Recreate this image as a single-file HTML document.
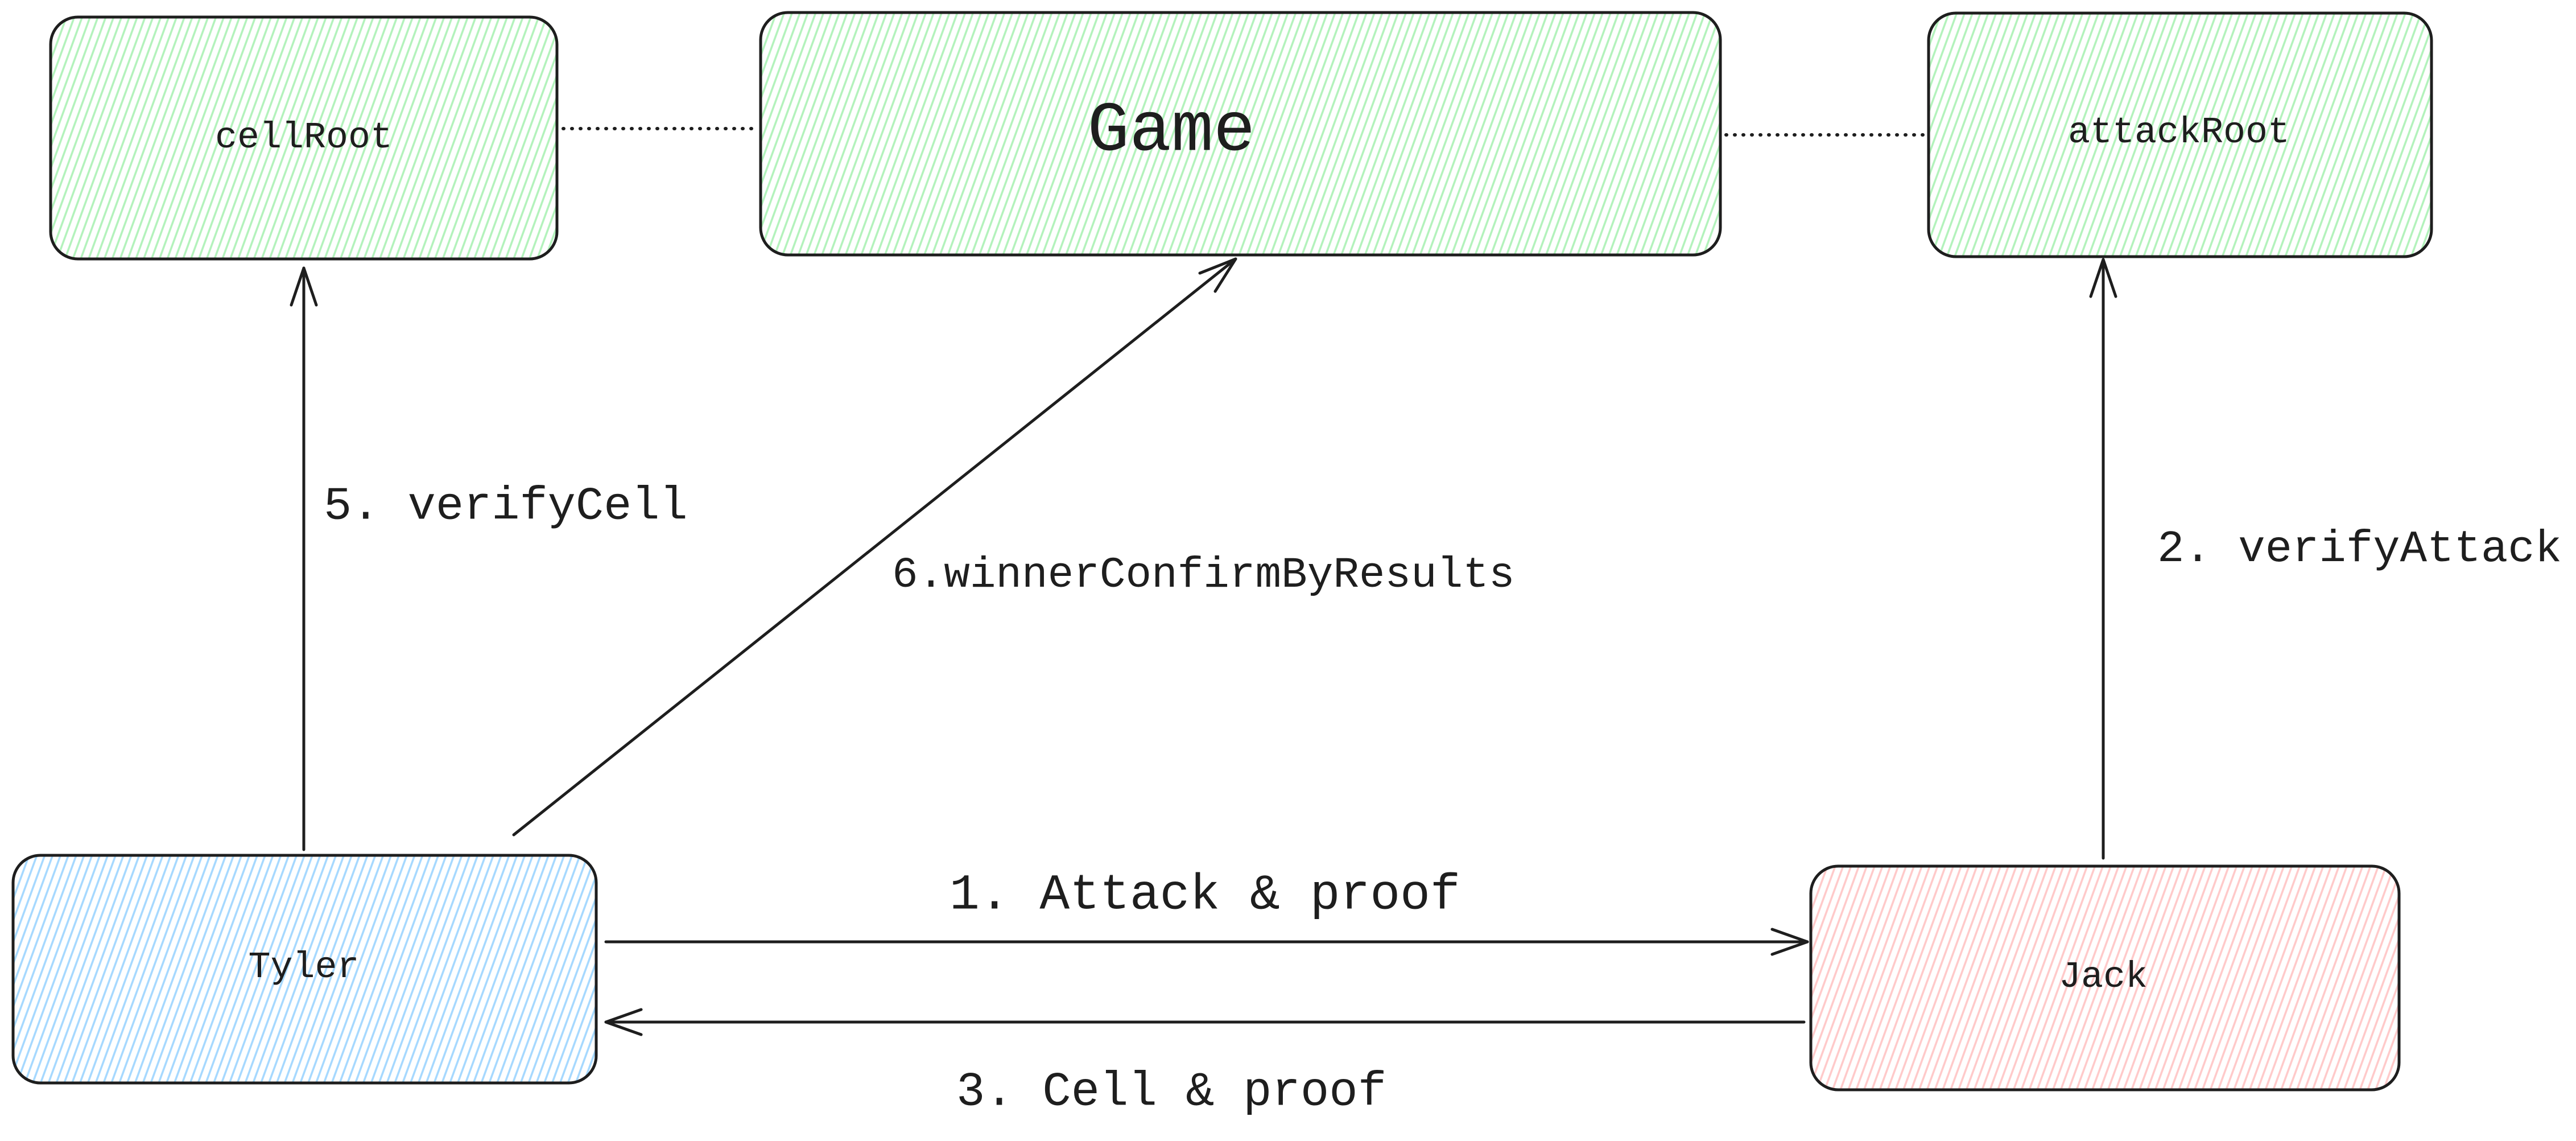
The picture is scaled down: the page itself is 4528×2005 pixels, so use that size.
<!DOCTYPE html>
<html><head><meta charset="utf-8"><style>
html,body{margin:0;padding:0;background:#fff;}
svg{display:block;}
text{font-family:"Liberation Mono","DejaVu Sans Mono",monospace;fill:#1e1e1e;}
</style></head><body>
<svg width="4528" height="2005" viewBox="0 0 4528 2005" xmlns="http://www.w3.org/2000/svg">
<defs>
<pattern id="hg" patternUnits="userSpaceOnUse" width="13" height="40" patternTransform="rotate(20)">
<line x1="3" y1="0" x2="3" y2="40" stroke="#b2f2bb" stroke-width="3.5"/>
</pattern>
<pattern id="hb" patternUnits="userSpaceOnUse" width="13" height="40" patternTransform="rotate(20)">
<line x1="3" y1="0" x2="3" y2="40" stroke="#a5d8ff" stroke-width="3.5"/>
</pattern>
<pattern id="hp" patternUnits="userSpaceOnUse" width="13" height="40" patternTransform="rotate(20)">
<line x1="3" y1="0" x2="3" y2="40" stroke="#ffc9c9" stroke-width="3.5"/>
</pattern>
</defs>
<g stroke="#1e1e1e" stroke-width="5">
<rect x="89" y="30" width="890" height="425" rx="48" fill="url(#hg)"/>
<rect x="1337" y="22" width="1687" height="426" rx="48" fill="url(#hg)"/>
<rect x="3390" y="23" width="884" height="428" rx="48" fill="url(#hg)"/>
<rect x="23" y="1503" width="1025" height="400" rx="48" fill="url(#hb)"/>
<rect x="3183" y="1522" width="1034" height="393" rx="48" fill="url(#hp)"/>
</g>
<g stroke="#1e1e1e" stroke-width="6" stroke-linecap="round" stroke-dasharray="1 14" fill="none">
<line x1="990" y1="226" x2="1335" y2="226"/>
<line x1="3034" y1="237" x2="3380" y2="237"/>
</g>
<g stroke="#1e1e1e" stroke-width="5" fill="none" stroke-linecap="round" stroke-linejoin="round">
<line x1="534" y1="1493" x2="534" y2="471"/>
<polyline points="512,536 534,471 556,536"/>
<line x1="903" y1="1467" x2="2172" y2="455"/>
<polyline points="2109,480 2172,455 2136,512"/>
<line x1="3697" y1="1508" x2="3697" y2="456"/>
<polyline points="3675,521 3697,456 3719,521"/>
<line x1="1065" y1="1655" x2="3177" y2="1655"/>
<polyline points="3115,1633 3177,1655 3115,1677"/>
<line x1="3171" y1="1796" x2="1065" y2="1796"/>
<polyline points="1127,1774 1065,1796 1127,1818"/>
</g>
<g text-anchor="middle" dominant-baseline="central">
<text x="534" y="242" font-size="65">cellRoot</text>
<text x="2059" y="231" font-size="123" font-family="Liberation Sans, sans-serif">Game</text>
<text x="3830" y="233" font-size="65">attackRoot</text>
<text x="534" y="1700" font-size="65">Tyler</text>
<text x="3697" y="1717" font-size="65">Jack</text>
</g>
<g dominant-baseline="central">
<text x="569" y="890" font-size="82">5. verifyCell</text>
<text x="1568" y="1011" font-size="76">6.winnerConfirmByResults</text>
<text x="3792" y="965" font-size="79">2. verifyAttack</text>
<text x="1669" y="1574" font-size="88">1. Attack &amp; proof</text>
<text x="1681" y="1920" font-size="84">3. Cell &amp; proof</text>
</g>
</svg>
</body></html>
